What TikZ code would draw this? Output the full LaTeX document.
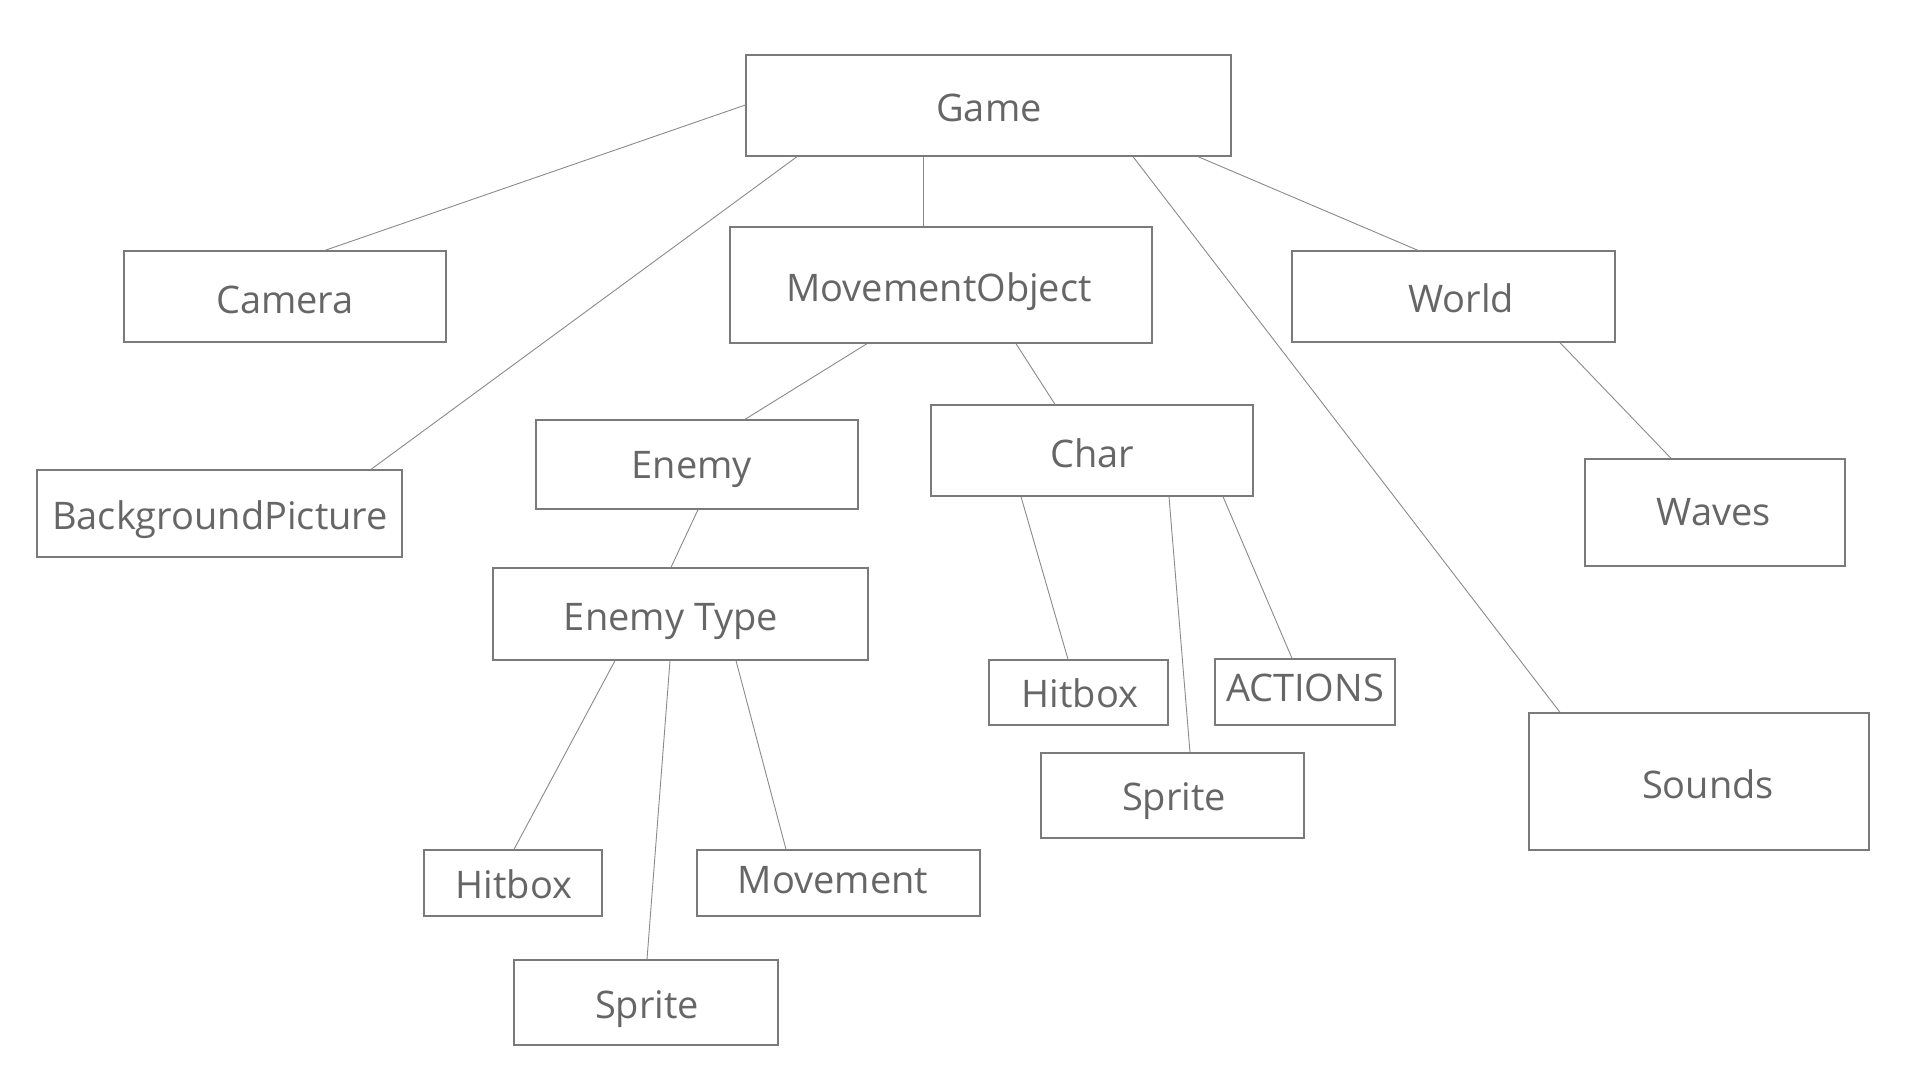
\documentclass[tikz,border=0pt]{standalone}
\usepackage{fontspec}
\setmainfont{Open Sans}
\definecolor{txtc}{HTML}{666666}
\definecolor{boxc}{HTML}{7A7A7A}
\definecolor{linec}{HTML}{8A8A8A}
\begin{document}
\begin{tikzpicture}[x=1pt,y=-1pt,
  box/.style={draw=boxc,line width=1.3pt,inner sep=0pt},
  txt/.style={text=txtc,font=\fontsize{38}{40}\selectfont,inner sep=0pt,anchor=base},
  conn/.style={draw=linec,line width=0.9pt}]
\useasboundingbox (0,0) rectangle (1920,1080);
% boxes (corners in px)
\newcommand{\mybox}[5]{\node[box,minimum width={#4-#2},minimum height={#5-#3}] (#1) at ({(#2+#4)/2},{(#3+#5)/2}) {};}
\newcommand{\mytxt}[4]{\node[txt] (#1) at (#2,{#3+13.5}) {#4};}
\mybox{game}{746}{55}{1231}{156}
\mybox{camera}{124}{251}{446}{342}
\mybox{bg}{37}{470}{402}{557}
\mybox{mo}{730}{227}{1152}{343}
\mybox{world}{1292}{251}{1615}{342}
\mybox{enemy}{536}{420}{858}{509}
\mybox{char}{931}{405}{1253}{496}
\mybox{waves}{1585}{459}{1845}{566}
\mybox{etype}{493}{568}{868}{660}
\mybox{chit}{989}{660}{1168}{725}
\mybox{act}{1215}{659}{1395}{725}
\mybox{cspr}{1041}{753}{1304}{838}
\mybox{sounds}{1529}{713}{1869}{850}
\mybox{ehit}{424}{850}{602}{916}
\mybox{emov}{697}{850}{980}{916}
\mybox{espr}{514}{960}{778}{1045}
% texts
\mytxt{tgame}{989}{108}{Game}
\mytxt{tcam}{285}{300}{Camera}
\mytxt{tbg}{220}{516}{BackgroundPicture}
\mytxt{tmo}{939}{288}{MovementObject}
\mytxt{tworld}{1461}{299}{World}
\mytxt{tenemy}{692}{465}{Enemy}
\mytxt{tchar}{1092}{454}{Char}
\mytxt{twaves}{1714}{512}{Waves}
\mytxt{tetype}{671}{617}{Enemy Type}
\mytxt{tchit}{1080}{694}{Hitbox}
\mytxt{tact}{1305}{688}{ACTIONS}
\mytxt{tcspr}{1174}{797}{Sprite}
\mytxt{tsounds}{1708}{785}{Sounds}
\mytxt{tehit}{514}{885}{Hitbox}
\mytxt{temov}{833}{880}{Movement}
\mytxt{tespr}{647}{1005}{Sprite}
% connectors
\draw[conn] (game.west |- 0,105) -- (camera.north -| 325,0);
\draw[conn] (game.south -| 797,0) -- (bg.north -| 371,0);
\draw[conn] (game.south -| 923,0) -- (mo.north -| 923,0);
\draw[conn] (game.south -| 1133,0) -- (sounds.north -| 1560,0);
\draw[conn] (game.south -| 1198,0) -- (world.north -| 1418,0);
\draw[conn] (mo.south -| 867,0) -- (enemy.north -| 745,0);
\draw[conn] (mo.south -| 1016,0) -- (char.north -| 1055,0);
\draw[conn] (enemy.south -| 698,0) -- (etype.north -| 671,0);
\draw[conn] (etype.south -| 615,0) -- (ehit.north -| 514,0);
\draw[conn] (etype.south -| 670,0) -- (espr.north -| 647,0);
\draw[conn] (etype.south -| 736,0) -- (emov.north -| 786,0);
\draw[conn] (char.south -| 1021,0) -- (chit.north -| 1068,0);
\draw[conn] (char.south -| 1169,0) -- (cspr.north -| 1190,0);
\draw[conn] (char.south -| 1223,0) -- (act.north -| 1292,0);
\draw[conn] (world.south -| 1560,0) -- (waves.north -| 1671,0);
\end{tikzpicture}
\end{document}
